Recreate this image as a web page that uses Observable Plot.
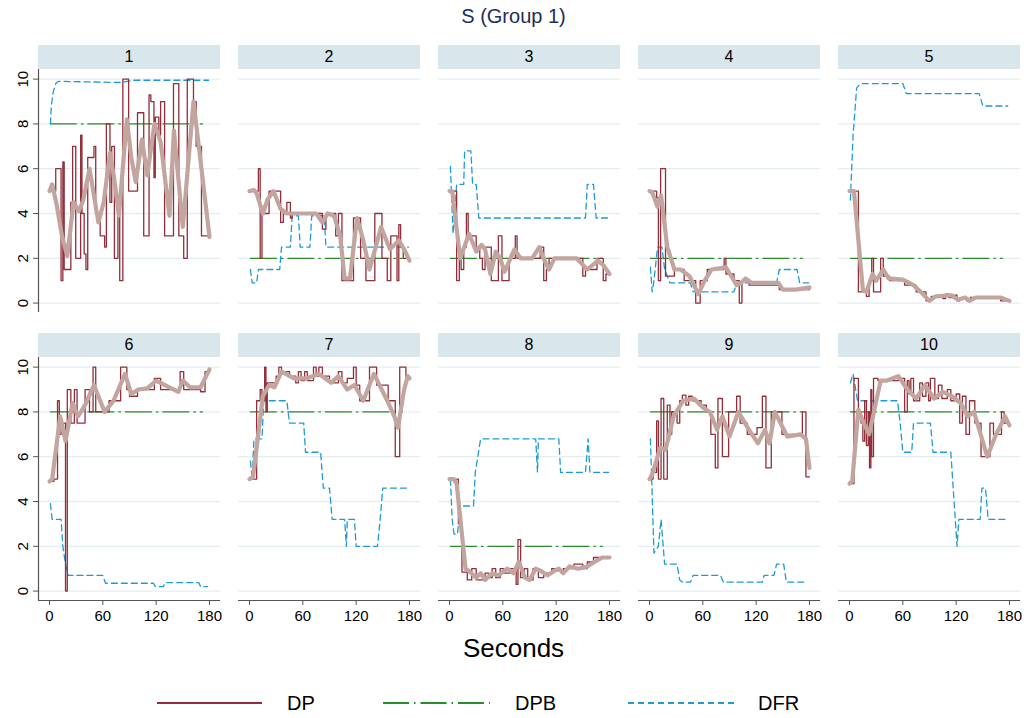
<!DOCTYPE html>
<html><head><meta charset="utf-8">
<script src="https://cdn.jsdelivr.net/npm/d3@7"></script>
<script src="https://cdn.jsdelivr.net/npm/@observablehq/plot@0.6"></script>
<style>
body{margin:0;background:#fff;font-family:"Liberation Sans",Arial,sans-serif;}
#root{position:relative;width:1027px;height:718px;overflow:hidden;background:#fff;}
.abs{position:absolute;}
.hdr{position:absolute;background:#d9e6ec;color:#000;font-size:16px;text-align:center;line-height:24px;height:24px;}
</style></head>
<body><div id="root"></div>
<script>
// ---------------- DATA ----------------
const panelLabels = ["1","2","3","4","5","6","7","8","9","10"];
const tickLabelsX = [0, 60, 120, 180];
const tickLabelsY = [0, 2, 4, 6, 8, 10];
const seriesNames = ["DP", "DPB", "DFR"];
// DPB level per panel, drawn from dpbStart to dpbEnd seconds
const dpbLevel = [8, 2, 2, 2, 2, 8, 8, 2, 8, 8];
const dpbStart = 1, dpbEnd = 172;

// DP: [second, value] change points (step line)
const dp = [
 [[0,5],[7,6],[13,1],[15,6.3],[16.5,1.5],[24,4.5],[26,7],[29.5,2],[35,7.5],[36.5,4],[39,2.2],[41,1.5],[43,6.5],[50,7],[52,4],[57,3],[62,2.5],[64,8],[68,4.5],[70,7],[73,2],[77,4.5],[79,1],[82.5,10],[89,5],[99,8.5],[106,3],[112,9.3],[114,9],[117.5,5.6],[119,8.3],[123,7.5],[125,9],[129.5,3],[139.5,9.8],[145.5,3],[151,2],[155,10],[162,9],[165,7],[171,3],[180,3]],
 [[0,5],[10,6],[12,2],[14,4],[22,5],[35,3.6],[38,4],[42,4.5],[46,3.8],[48,4],[82,3.3],[86,4],[97,3],[100,4],[104,1],[117,3.8],[125,2],[131,1],[141,4],[149,2],[155,1],[159,3],[166,1],[168,3.5],[170,2.5],[173,2],[180,2]],
 [[0,5],[8,1],[11,2],[13,1.5],[16,2.5],[19,4],[21,3],[30,2.5],[34,2],[37,1.5],[40,2.5],[47,1],[55,3],[59,1],[67,2],[74,3],[76,2],[102,2.5],[106,1],[109,1.5],[112,2],[150,1.2],[153,1.5],[166,2],[173,1],[176,1.3],[180,1.3]],
 [[0,5],[8,4.7],[10,1],[12.5,6],[18,1.2],[28,1.5],[39,1],[52,0],[57,1],[65,1.5],[84,2],[86,1.3],[95,1],[101,0],[104,1],[112,0.8],[146,0.6],[180,0.6]],
 [[0,5],[10,0.5],[19,0.3],[22,1],[25,2],[27,0.5],[35,2],[38,1.2],[45,1],[62,0.8],[75,0.5],[86,0.1],[92,0.3],[105,0.2],[108,0.4],[112,0.25],[118,0.35],[121,0.1],[124,0.2],[132,0.1],[136,0.25],[170,0.1],[180,0.1]],
 [[0,4.9],[5,5],[9,8.5],[11,7],[13,7.5],[18,0],[20,9],[24,7.5],[28,9],[31,7.5],[40,9],[45,8],[49,10],[52,8],[67,8.5],[80,10],[87,9],[90,8.7],[99,9],[118,9.5],[125,9],[147,9.8],[151,9],[170,8.9],[175,9.8],[180,9.8]],
 [[0,5],[8,8.5],[12,9],[14,8.5],[17,10],[18.5,8],[20,9.3],[30,9.6],[33,10],[36,9.8],[45,9.6],[52,9.3],[55,9.8],[58,9.4],[62,9.8],[65,9.4],[72,10],[75,9.6],[78,10],[82,9.6],[90,9.3],[100,9.8],[104,9.3],[110,9.5],[117,10],[120,9.2],[124,8.5],[135,10],[143,9.2],[156,8.5],[164,6],[169,10],[176,9.5],[180,9.5]],
 [[0,5],[10,3],[14,0.85],[20,0.5],[25,1],[30,0.5],[40,0.8],[44,0.6],[48,1],[52,0.6],[57,1],[61,0.8],[68,1],[75,0.3],[77,2.3],[80,0.6],[84,1],[88,0.5],[94,1],[100,0.6],[106,0.8],[115,1],[123,0.9],[128,1],[140,1.2],[150,1],[155,1.3],[162,1.5],[180,1.5]],
 [[0,5],[4,5.3],[8,7.6],[10,5],[13,8.6],[16,5],[20,8.3],[23,7],[25,8],[31,7.5],[34,8.5],[37,8.75],[41,8.3],[44,8.7],[48,8.5],[58,8.3],[64,8],[69,7],[74,5.5],[77,8.6],[82,6],[89,8],[98,8.7],[102,7.5],[110,7],[121,7.3],[127,8.7],[131,5.5],[137,8],[149,7],[172,8],[176,5.1],[180,5.1]],
 [[0,4.8],[5,9.5],[10,8],[13,7.5],[15,6.7],[17,8.5],[19,6.5],[21,8],[22.5,5.5],[24,9],[25,6],[27,9.5],[32,9.4],[55,9.5],[62,8],[65,9.4],[67,8.8],[69,9.5],[72,8.5],[79,9.3],[82,8.7],[86,9.3],[89,8.5],[91,9.5],[96,8.6],[100,9.2],[104,8.6],[110,9],[114,8.5],[120,8.8],[124,7.5],[127,8.7],[131,7],[135,8.5],[141,7.5],[148,6],[158,7.5],[162,7],[171,8],[174,7.5],[180,7.5]]
];

// Smoothed DP (thick line)
const smooth = [
 [[0,5],[3,5.3],[8,4.4],[14,3.0],[20,2.1],[27,4.5],[33,4.1],[38,4.6],[45,6.0],[55,3.6],[61,4.5],[68,6.7],[73,5.5],[78,3.9],[87,8.2],[92,6.5],[97,5.4],[104,7.3],[110,5.7],[118,8.0],[125,7.2],[135,3.9],[140,7.7],[150,3.4],[162,9.0],[168,7.0],[180,2.95]],
 [[0,5],[5,5.05],[8,4.9],[15,4.0],[20,4.6],[27,5.0],[35,4.2],[42,4.0],[75,4.0],[82,3.6],[88,4.0],[95,3.9],[102,3.0],[107,1.1],[113,1.1],[121,3.8],[128,2.8],[135,1.5],[142,2.5],[148,3.4],[158,2.4],[163,2.6],[168,2.8],[174,2.4],[180,1.9]],
 [[0,5],[3,5],[12,2.0],[22,3.1],[30,2.3],[36,2.6],[40,2.4],[46,1.3],[52,2.3],[57,2.0],[62,1.4],[73,2.4],[80,2.0],[93,2.0],[101,2.5],[108,1.8],[112,1.5],[118,2.0],[143,2.0],[155,1.5],[167,1.9],[173,1.7],[180,1.3]],
 [[0,5],[3,4.95],[9,4.3],[13,4.8],[20,2.5],[28,1.5],[35,1.5],[45,1.2],[55,0.4],[62,1.0],[70,1.5],[86,1.6],[92,1.2],[98,0.8],[103,0.9],[108,1.1],[115,0.9],[145,0.9],[150,0.6],[165,0.6],[180,0.7]],
 [[0,5],[5,5],[15,0.6],[19,0.5],[26,1.3],[30,1.0],[38,1.5],[44,1.1],[60,1.05],[72,0.8],[80,0.5],[90,0.1],[97,0.3],[115,0.35],[122,0.15],[130,0.25],[135,0.1],[142,0.25],[170,0.25],[180,0.1]],
 [[0,4.9],[3,5],[12,7.8],[18,6.7],[26,8.4],[32,7.8],[40,8.3],[50,9.2],[62,8.0],[72,8.5],[85,9.7],[92,8.8],[100,9.0],[110,9.05],[120,9.4],[135,9.1],[145,8.9],[150,9.4],[158,9.1],[170,9.1],[180,9.9]],
 [[0,5],[4,5.1],[15,8.7],[22,9.2],[28,9.1],[36,9.8],[50,9.5],[65,9.5],[78,9.7],[92,9.3],[100,9.6],[110,9.0],[118,9.2],[128,8.5],[140,9.7],[155,8.5],[163,7.8],[167,7.3],[174,9.0],[178,9.6],[180,9.5]],
 [[0,5],[5,5],[8,4.8],[18,1.0],[22,0.9],[30,0.6],[35,0.8],[40,0.5],[48,0.8],[55,0.7],[65,1.0],[72,0.8],[78,1.3],[85,0.6],[90,0.5],[97,1.0],[103,0.9],[110,0.7],[118,0.9],[123,1.0],[128,0.8],[135,1.1],[145,1.0],[155,1.1],[163,1.3],[172,1.5],[180,1.5]],
 [[0,5],[3,5.2],[12,6.4],[18,6.3],[27,7.8],[38,8.5],[50,8.6],[60,8.2],[68,8.0],[76,7.2],[82,7.8],[90,6.9],[100,8.0],[112,7.2],[122,6.6],[130,7.2],[135,6.6],[141,8.0],[155,6.9],[170,7.0],[176,6.8],[180,5.5]],
 [[0,4.8],[3,4.9],[10,8.1],[16,7.5],[22,7.0],[35,9.4],[42,9.4],[55,9.6],[65,9.0],[75,8.6],[85,9.2],[95,8.6],[105,8.9],[115,8.7],[125,8.4],[133,7.8],[140,8.0],[155,6.0],[165,7.0],[175,7.8],[180,7.4]]
];

// DFR: [second, value]
const dfr = [
 [[1,8],[2,8.8],[4,9.4],[7,9.8],[10,9.9],[80,9.85],[95,9.95],[179,9.95]],
 [[1,1.5],[3,0.9],[8,0.9],[10,1.5],[34,1.5],[36,2.5],[46,2.5],[48,3.9],[55,3.9],[57,2.5],[68,2.5],[70,3.9],[84,3.9],[86,2.5],[179,2.5]],
 [[1,6.1],[4,3.1],[6,4.0],[8,5.3],[16,5.3],[17,6.8],[24,6.8],[26,5.3],[30,5.3],[33,3.8],[153,3.8],[155,5.3],[162,5.3],[165,3.8],[179,3.8]],
 [[1,1.6],[3,0.5],[5,1.0],[9,2.5],[14,2.5],[17,1.5],[23,0.9],[46,0.9],[49,0.5],[95,0.5],[98,0.9],[143,0.9],[146,1.5],[166,1.5],[169,0.9],[179,0.9]],
 [[1,4.6],[4,7.5],[8,9.6],[12,9.8],[60,9.8],[64,9.35],[146,9.35],[150,8.8],[178,8.8]],
 [[1,3.9],[3,3.2],[13,3.2],[15,2.0],[18,1.2],[21,0.7],[60,0.7],[63,0.35],[117,0.35],[119,0.2],[128,0.2],[130,0.38],[168,0.38],[170,0.2],[178,0.2]],
 [[1,5.8],[3,5.0],[5,6.8],[14,6.8],[16,8.5],[42,8.5],[45,7.5],[61,7.5],[63,6.2],[80,6.2],[83,4.6],[90,4.6],[93,3.2],[107,3.2],[109,2.0],[110,3.2],[118,3.2],[120,2.0],[144,2.0],[147,3.2],[150,4.6],[178,4.6]],
 [[1,5.0],[3,3.2],[5,2.55],[9,2.55],[12,3.8],[27,3.8],[29,5.3],[35,6.8],[97,6.8],[99,5.3],[100,6.8],[123,6.8],[125,5.3],[153,5.3],[156,6.8],[158,5.3],[179,5.3]],
 [[1,6.8],[5,1.7],[10,2.0],[13,3.2],[17,1.2],[31,1.2],[34,0.5],[37,0.4],[46,0.4],[49,0.7],[80,0.7],[83,0.4],[127,0.4],[129,0.7],[140,0.7],[143,1.2],[151,1.2],[154,0.4],[174,0.4]],
 [[1,9.3],[4,9.7],[9,8.5],[54,8.5],[57,7.5],[60,6.2],[70,6.2],[72,7.5],[91,7.5],[94,6.2],[114,6.2],[121,2.0],[123,3.2],[147,3.2],[149,4.6],[153,4.6],[156,3.2],[177,3.2]]
];

// ---------------- STYLE ----------------
const C = {dp:"#922e3a", dpb:"#2a8c2a", dfr:"#1e9bd3", smooth:"#c3a59f", grid:"#e4eef1", axis:"#555", hdr:"#d9e6ec"};
const DASH = {dpb:"26,5,1.5,5", dfr:"6,4"};
const FONT = "'Liberation Sans', Arial, sans-serif";
const PW = 182, PH = 243;
const root = document.getElementById("root");

function addText(txt, css){const d=document.createElement("div");d.className="abs";d.textContent=txt;Object.assign(d.style,css);root.appendChild(d);return d;}

addText("S (Group 1)", {left:"0px", width:"1027px", top:"5px", textAlign:"center", fontSize:"20px", color:"#1f2d56"});

for (let i = 0; i < 10; i++) {
  const c = i % 5, r = Math.floor(i / 5);
  const left = c === 0, bottom = r === 1;
  const ml = left ? 38 : 0, mb = bottom ? 42 : 0;
  const px = 38 + 200 * c, py = 69 + 288 * r;
  const hd = document.createElement("div");
  hd.className = "hdr"; hd.textContent = panelLabels[i];
  Object.assign(hd.style, {left: px + "px", top: (py - 24) + "px", width: PW + "px"});
  root.appendChild(hd);

  const marks = [
    Plot.ruleY(tickLabelsY, {stroke: C.grid, strokeWidth: 1.3}),
    Plot.line([[dpbStart, dpbLevel[i]], [dpbEnd, dpbLevel[i]]], {x: d => d[0], y: d => d[1], stroke: C.dpb, strokeWidth: 1.3, strokeDasharray: DASH.dpb}),
    Plot.line(dfr[i], {x: d => d[0], y: d => d[1], stroke: C.dfr, strokeWidth: 1.3, strokeDasharray: DASH.dfr}),
    Plot.line(dp[i], {x: d => d[0], y: d => d[1], curve: "step-after", stroke: C.dp, strokeWidth: 1.3}),
    Plot.line(smooth[i], {x: d => d[0], y: d => d[1], stroke: C.smooth, strokeWidth: 4.2, strokeLinejoin: "round", strokeLinecap: "round"})
  ];
  if (left) {
    marks.push(Plot.ruleX([-12.4], {stroke: C.axis, strokeWidth: 1.2}));
    marks.push(Plot.axisY({ticks: tickLabelsY, tickSize: 5, tickPadding: 6, tickRotate: -90, fontSize: 15, stroke: C.axis, fill: "#000", textAnchor: "middle", lineAnchor: "bottom", label: null}));
  }
  if (bottom) {
    marks.push(Plot.ruleY([-0.42], {stroke: C.axis, strokeWidth: 1.2}));
    marks.push(Plot.axisX({ticks: tickLabelsX, tickSize: 5, tickPadding: 5, fontSize: 15, stroke: C.axis, fill: "#000", label: null}));
  }
  const chart = Plot.plot({
    width: PW + ml, height: PH + mb,
    marginLeft: ml, marginRight: 0, marginTop: 0, marginBottom: mb,
    style: {fontFamily: FONT, background: "transparent", overflow: "visible"},
    x: {domain: [-12.4, 192.4], axis: null},
    y: {domain: [-0.42, 10.43], axis: null},
    marks
  });
  chart.style.position = "absolute";
  chart.style.left = (px - ml) + "px";
  chart.style.top = py + "px";
  root.appendChild(chart);
}

addText("Seconds", {left:"0px", width:"1027px", top:"633px", textAlign:"center", fontSize:"26px", color:"#000"});

// Legend
const NS = "http://www.w3.org/2000/svg";
const lg = document.createElementNS(NS, "svg");
lg.setAttribute("width", 1027); lg.setAttribute("height", 40);
lg.style.position = "absolute"; lg.style.left = "0px"; lg.style.top = "683px";
const legendItems = [
  {name: seriesNames[0], color: C.dp, dash: null, x1: 157, x2: 262, tx: 287},
  {name: seriesNames[1], color: C.dpb, dash: DASH.dpb, x1: 383, x2: 490, tx: 515},
  {name: seriesNames[2], color: C.dfr, dash: DASH.dfr, x1: 628, x2: 735, tx: 758}
];
for (const it of legendItems) {
  const ln = document.createElementNS(NS, "line");
  ln.setAttribute("x1", it.x1); ln.setAttribute("x2", it.x2);
  ln.setAttribute("y1", 20); ln.setAttribute("y2", 20);
  ln.setAttribute("stroke", it.color); ln.setAttribute("stroke-width", 2);
  if (it.dash) ln.setAttribute("stroke-dasharray", it.dash);
  lg.appendChild(ln);
  const t = document.createElementNS(NS, "text");
  t.setAttribute("x", it.tx); t.setAttribute("y", 27);
  t.setAttribute("font-size", 20); t.setAttribute("font-family", FONT);
  t.textContent = it.name;
  lg.appendChild(t);
}
root.appendChild(lg);
</script>
</body></html>
